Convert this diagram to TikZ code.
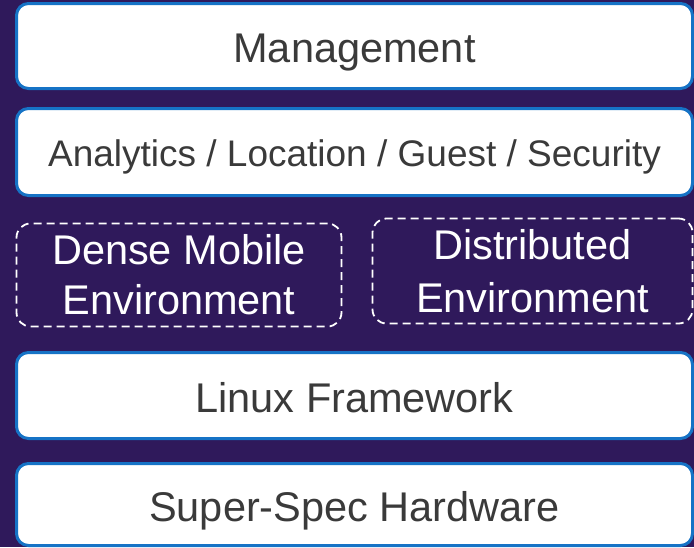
\documentclass[tikz,border=0pt]{standalone}
\usepackage{fontspec}
\setmainfont{Liberation Sans}
\definecolor{bgpurple}{HTML}{2F195B}
\definecolor{edgeblue}{HTML}{1673C6}
\definecolor{textgray}{HTML}{3A3A3A}

\begin{document}
\begin{tikzpicture}[x=1pt,y=1pt,
    layer/.style={draw=edgeblue, line width=3pt, fill=white, rounded corners=12pt,
        text=textgray, minimum width=676pt, inner sep=0pt,
        font=\fontsize{41.5}{50}\selectfont, text height=33pt, text depth=0pt},
    envbox/.style={draw=white, line width=1.8pt, dash pattern=on 8pt off 5pt,
        rounded corners=14pt, text=white, align=center, inner sep=0pt,
        font=\fontsize{41.5}{50}\selectfont}]
    % Draw the background
    \useasboundingbox (0,0) rectangle (694,-547);
    \fill[bgpurple] (0,0) rectangle (694,-547);
    % Draw the layers
    \node[layer, minimum height=85pt] (mgmt) at (354.5,-46) {Management};
    \node[layer, minimum height=87pt, font=\fontsize{37}{44}\selectfont, text height=29pt]
        (apps) at (354.5,-152) {Analytics / Location / Guest / Security};
    % Draw the two environments
    \node[envbox, minimum width=325pt, minimum height=103pt] (dense) at (179,-275)
        {Dense Mobile\\Environment};
    \node[envbox, minimum width=320pt, minimum height=105pt,
        font=\fontsize{41.5}{53}\selectfont] (distrib) at (532.5,-271)
        {Distributed\\Environment};
    % Draw the lower layers
    \node[layer, minimum height=86pt] (linux) at (354.5,-395.5) {Linux Framework};
    \node[layer, minimum height=82pt] (hw) at (354.5,-504.5) {Super-Spec Hardware};
\end{tikzpicture}
\end{document}
